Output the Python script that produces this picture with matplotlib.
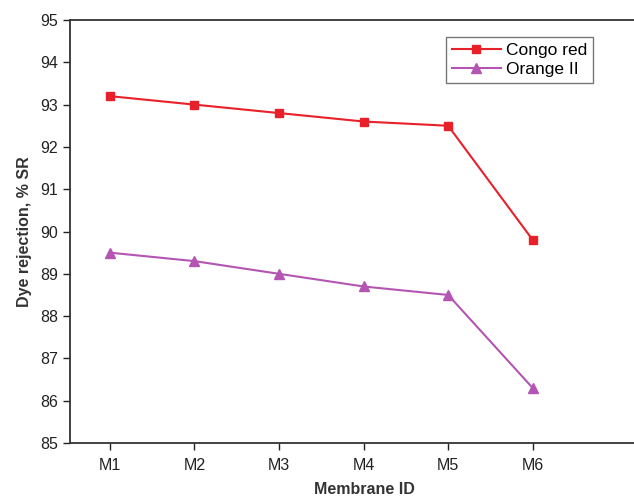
import numpy as np
import matplotlib
matplotlib.use("Agg")
import matplotlib.pyplot as plt

membranes = ["M1", "M2", "M3", "M4", "M5", "M6"]
congo_red = [93.2, 93.0, 92.8, 92.6, 92.5, 89.8]
orange_ii = [89.5, 89.3, 89.0, 88.7, 88.5, 86.3]

plt.rcParams["font.family"] = ["Liberation Sans", "DejaVu Sans"]

fig = plt.figure(figsize=(6.34, 4.96), dpi=100)
ax = fig.add_axes([70 / 634, 53 / 496, 0.93, 423 / 496])

x = np.arange(1, len(membranes) + 1)
ax.plot(x, congo_red, color="#e8202a", marker="s", markersize=6, lw=1.5, label="Congo red")
ax.plot(x, orange_ii, color="#b455b4", marker="^", markersize=7, lw=1.5, label="Orange II")

ax.set_xlim(0.53, 7.5)
ax.set_ylim(85, 95)
ax.set_xticks(x)
ax.set_xticklabels(membranes)
ax.set_yticks(np.arange(85, 96, 1))
ax.tick_params(direction="out", length=5, width=1, labelsize=11.5, colors="#222222")
ax.tick_params(axis="x", pad=6)
for s in ax.spines.values():
    s.set_linewidth(1.3)
    s.set_color("#333333")

ax.set_xlabel("Membrane ID", fontsize=11.5, fontweight="bold", color="#333333", labelpad=6)
ax.set_ylabel("Dye rejection, % SR", fontsize=11.5, fontweight="bold", color="#333333", labelpad=6)

leg = ax.legend(loc="upper left", bbox_to_anchor=(446 / 634, 1 - 37 / 496),
                bbox_transform=fig.transFigure, borderaxespad=0,
                fontsize=12.5, frameon=True, fancybox=False, handlelength=2.8,
                borderpad=0.35, labelspacing=0.2, handletextpad=0.3)
leg.get_frame().set_edgecolor("#555555")
leg.get_frame().set_linewidth(1)

fig.savefig("out.png", dpi=100)
